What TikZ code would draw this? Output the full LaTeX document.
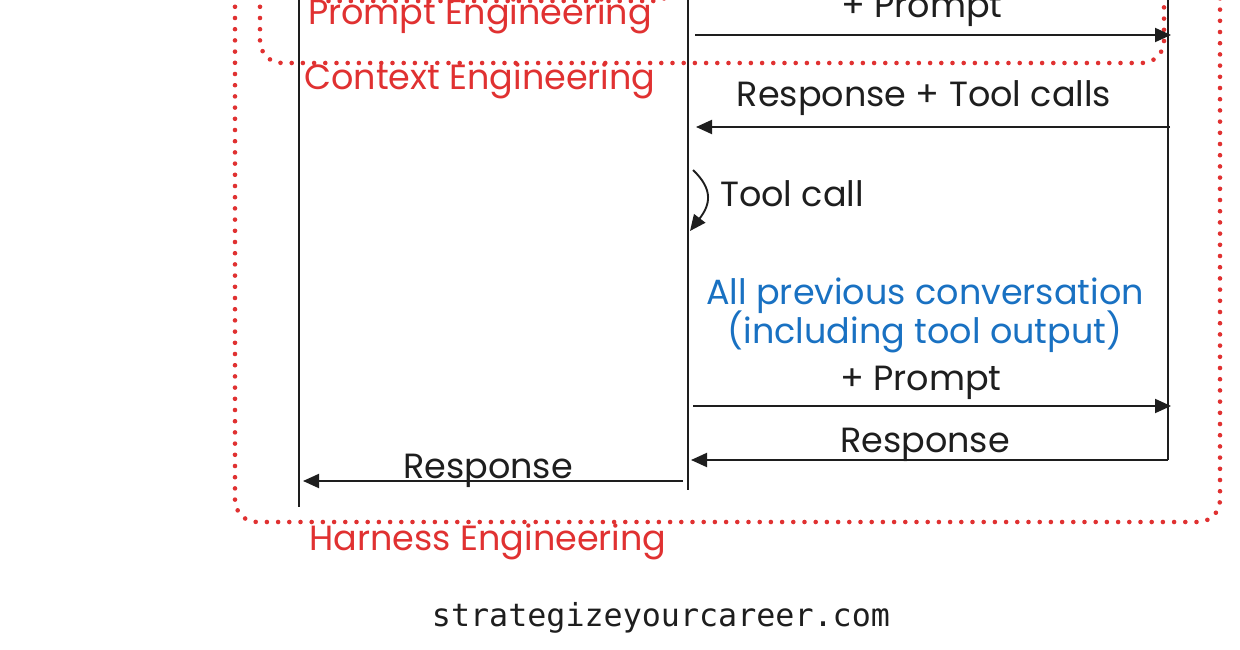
\documentclass[tikz,border=0pt]{standalone}
\usepackage{fontspec}
\setmainfont{Poppins}
\newfontfamily\monofont{DejaVu Sans Mono}
\usetikzlibrary{arrows.meta}
\definecolor{inkblack}{HTML}{1E1E1E}
\definecolor{inkred}{HTML}{E03131}
\definecolor{inkblue}{HTML}{1971C2}
\tikzset{
  lifeline/.style={draw=inkblack, line width=1.8pt},
  msg/.style={draw=inkblack, line width=1.9pt, -{Triangle[length=16pt,width=14pt]}},
  zone/.style={draw=inkred, line width=4.6pt, line cap=round, dash pattern=on 0pt off 11.2pt, rounded corners=22pt},
  lbl/.style={anchor=base, inner sep=0pt, text=inkblack, font=\fontsize{35}{39}\selectfont},
  redlbl/.style={lbl, text=inkred},
  bluelbl/.style={lbl, text=inkblue},
}
\begin{document}
\begin{tikzpicture}[x=1pt,y=-1pt]
\useasboundingbox (0,0) rectangle (1240,650);
\clip (0,0) rectangle (1240,650);
% zones
\draw[zone] (235,-60) rectangle (1220,522);
\draw[zone] (260,-60) rectangle (1164,63);
\draw[zone] (302,-60) rectangle (676,1);
% lifelines
\coordinate (userTop) at (299,-5);
\coordinate (userBot) at (299,507);
\coordinate (harnTop) at (688,-5);
\coordinate (harnBot) at (688,490);
\coordinate (llmTop) at (1168,-5);
\coordinate (llmBot) at (1168,460);
\draw[lifeline] (userTop) -- (userBot);
\draw[lifeline] (harnTop) -- (harnBot);
\draw[lifeline] (llmTop) -- (llmBot);
% labels
\node[redlbl] (promptEng) at (480,25) {Prompt Engineering};
\node[redlbl] (contextEng) at (480,90) {Context Engineering};
\node[redlbl] (harnessEng) at (488,550) {Harness Engineering};
\node[lbl] (plusPrompt1) at (922,18) {+ Prompt};
\node[lbl] (respTool) at (924,107) {Response + Tool calls};
\node[lbl] (toolCall) at (792,207) {Tool call};
\node[bluelbl] (allPrev) at (925,304) {All previous conversation};
\node[bluelbl] (incl) at (925,343) {(including tool output)};
\node[lbl] (plusPrompt2) at (921,390) {+ Prompt};
\node[lbl] (resp2) at (925,452) {Response};
\node[lbl] (resp3) at (488,478) {Response};
\node[anchor=base, inner sep=0pt, text=inkblack, font=\monofont\fontsize{31.7}{36}\selectfont] (site) at (661,626) {strategizeyourcareer.com};
% message endpoints
\coordinate (m1s) at (695,35);  \coordinate (m1e) at (1171,35);
\coordinate (m2s) at (1170,127); \coordinate (m2e) at (696,127);
\coordinate (m3s) at (693,406); \coordinate (m3e) at (1171,406);
\coordinate (m4s) at (1168,460); \coordinate (m4e) at (691,460);
\coordinate (m5s) at (683,481); \coordinate (m5e) at (303,481);
\coordinate (tcS) at (693,170); \coordinate (tcE) at (690,231);
\draw[msg] (m1s) -- (m1e);
\draw[msg] (m2s) -- (m2e);
\draw[msg] (m3s) -- (m3e);
\draw[msg] (m4s) -- (m4e);
\draw[msg] (m5s) -- (m5e);
\draw[msg] (tcS) .. controls (714,190) and (710,205) .. (tcE);
\end{tikzpicture}
\end{document}
